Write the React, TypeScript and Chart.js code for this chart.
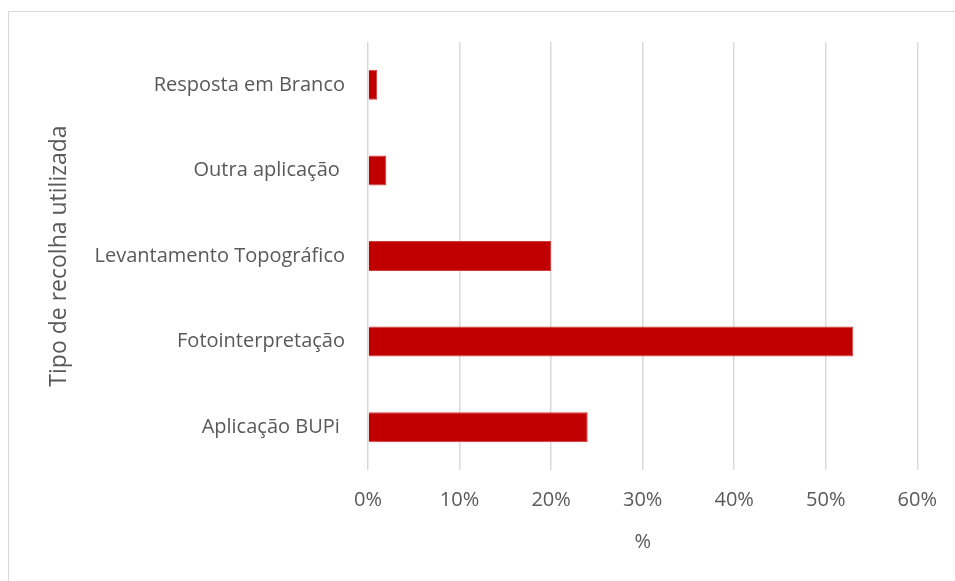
import React, { useEffect, useRef } from "react";
import { Chart, registerables } from "chart.js";

Chart.register(...registerables);

const categories = [
  "Resposta em Branco",
  "Outra aplicação ",
  "Levantamento Topográfico",
  "Fotointerpretação",
  "Aplicação BUPi ",
];
const values = [1, 2, 20, 53, 24];
const xTicks = [0, 10, 20, 30, 40, 50, 60];
const yTitle = "Tipo de recolha utilizada";
const xTitle = "%";

const FONT = "'Open Sans', 'Liberation Sans', sans-serif";
const TEXT = "#595959";
const GRID = "#d9d9d9";

export default function App() {
  const ref = useRef<HTMLCanvasElement | null>(null);

  useEffect(() => {
    document.body.style.margin = "0";
    const canvas = ref.current;
    if (!canvas) return;
    const chart = new Chart(canvas, {
      type: "bar",
      data: {
        labels: categories,
        datasets: [
          {
            data: values,
            backgroundColor: "#c00000",
            borderColor: "#d23a3a",
            borderWidth: 1,
            barPercentage: 0.35,
            categoryPercentage: 1,
          },
        ],
      },
      options: {
        indexAxis: "y",
        animation: false,
        responsive: false,
        devicePixelRatio: 1,
        layout: { padding: { top: 42, right: 36, left: 0, bottom: 0 } },
        plugins: { legend: { display: false }, tooltip: { enabled: false } },
        scales: {
          x: {
            min: 0,
            max: 60,
            afterBuildTicks: (scale: any) => {
              scale.ticks = xTicks.map((v) => ({ value: v }));
            },
            afterFit: (scale: any) => {
              scale.height = 111;
            },
            grid: { color: GRID, lineWidth: 1.5, drawTicks: false },
            border: { display: false },
            ticks: {
              color: TEXT,
              font: { family: FONT, size: 20 },
              padding: 18,
              callback: (v: any) => v + "%",
            },
            title: {
              display: true,
              text: xTitle,
              color: TEXT,
              font: { family: FONT, size: 20 },
              padding: { top: 0, bottom: 27 },
            },
          },
          y: {
            afterFit: (scale: any) => {
              scale.width = 368;
            },
            grid: { display: false },
            border: { display: false },
            ticks: {
              color: TEXT,
              font: { family: FONT, size: 20 },
              padding: 15,
            },
            title: {
              display: true,
              text: yTitle,
              color: TEXT,
              font: { family: FONT, size: 23 },
              padding: { top: 46, bottom: 0 },
            },
          },
        },
      },
    });
    return () => chart.destroy();
  }, []);

  return (
    <div
      style={{
        position: "fixed",
        left: 0,
        top: 0,
        width: 955,
        height: 581,
        overflow: "hidden",
        background: "#fff",
      }}
    >
      <div
        style={{
          position: "absolute",
          left: 8,
          top: 11,
          width: 1000,
          height: 1000,
          border: "1.5px solid #d9d9d9",
          boxSizing: "border-box",
        }}
      />
      <canvas
        ref={ref}
        width={955}
        height={581}
        style={{ position: "absolute", left: 0, top: 0, width: 955, height: 581 }}
      />
    </div>
  );
}
